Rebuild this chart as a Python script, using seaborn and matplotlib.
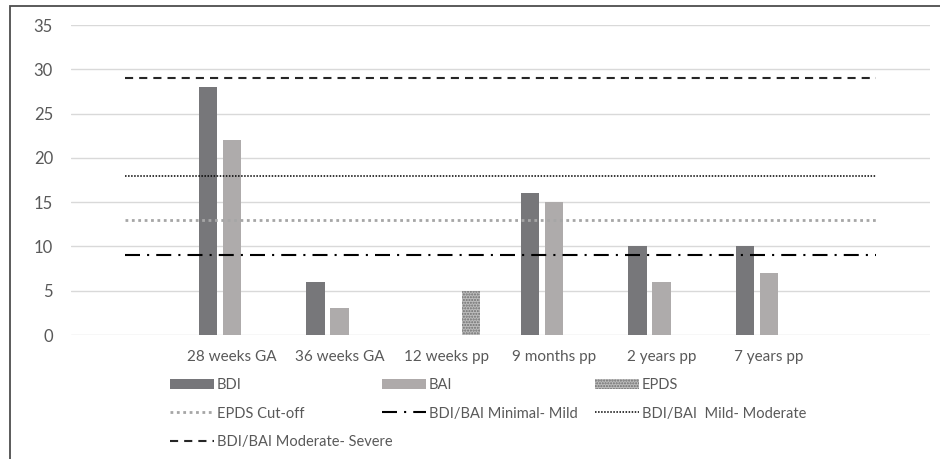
import numpy as np
import pandas as pd
import matplotlib
matplotlib.use("Agg")
import matplotlib.pyplot as plt
import seaborn as sns
from matplotlib.patches import Rectangle, Patch
from matplotlib.lines import Line2D

# ---- data ----
categories = ["", "28 weeks GA", "36 weeks GA", "12 weeks pp", "9 months pp",
              "2 years pp", "7 years pp", " "]
bdi = [np.nan, 28, 6, np.nan, 16, 10, 10, np.nan]
bai = [np.nan, 22, 3, np.nan, 15, 6, 7, np.nan]
epds = [np.nan, np.nan, np.nan, 5, np.nan, np.nan, np.nan, np.nan]
series_names = ["BDI", "BAI", "EPDS"]

threshold_names = ["EPDS Cut-off", "BDI/BAI Minimal- Mild",
                   "BDI/BAI  Mild- Moderate", "BDI/BAI Moderate- Severe"]
threshold_values = [13, 9, 18, 29]
yticks = [0, 5, 10, 15, 20, 25, 30, 35]

# ---- style ----
sns.set_theme(style="white")
plt.rcParams["font.family"] = ["Lato", "DejaVu Sans"]
plt.rcParams["hatch.linewidth"] = 1.0

TXT = "#595959"
bar_colors = {"BDI": "#76767a", "BAI": "#aeaaaa", "EPDS": "#bdbdbd"}
HATCH_C = "#6e6e6e"

fig = plt.figure(figsize=(9.4, 4.59), dpi=100)
ax = fig.add_axes([71 / 940, 1 - 335 / 459, (930 - 71) / 940, (335 - 25) / 459])

df = pd.DataFrame({
    "category": categories * 3,
    "series": sum([[s] * len(categories) for s in series_names], []),
    "value": bdi + bai + epds,
})

sns.barplot(data=df, x="category", y="value", hue="series", order=categories,
            hue_order=series_names, palette=bar_colors, width=0.672, gap=0.23,
            linewidth=0, errorbar=None, legend=False, ax=ax)

# hatch the EPDS bars
for p in ax.containers[2]:
    p.set_hatch("......")
    p.set_edgecolor(HATCH_C)
    p.set_linewidth(0)

# reference lines
line_styles = {
    "EPDS Cut-off": dict(color="#a6a6a6", lw=2.0, dashes=(1.0, 1.3)),
    "BDI/BAI Minimal- Mild": dict(color="#000000", lw=1.5, dashes=(7.2, 3.4, 1.0, 3.4)),
    "BDI/BAI  Mild- Moderate": dict(color="#000000", lw=1.1, dashes=(1.0, 1.0)),
    "BDI/BAI Moderate- Severe": dict(color="#262626", lw=1.5, dashes=(3.9, 2.9)),
}
xpos = np.arange(len(categories))
for name, val in zip(threshold_names, threshold_values):
    st = line_styles[name]
    ldf = pd.DataFrame({"x": xpos, "y": [val] * len(xpos)})
    sns.lineplot(data=ldf, x="x", y="y", ax=ax, color=st["color"], lw=st["lw"])
    ln = ax.lines[-1]
    ln.set_dashes(st["dashes"])
    ln.set_dash_capstyle("butt")

ax.set_xlim(-0.5, len(categories) - 0.5)
ax.set_ylim(0, 35)
ax.set_yticks(yticks)
ax.set_xticks(xpos)
ax.set_xticklabels(categories)
ax.set_xlabel("")
ax.set_ylabel("")
ax.yaxis.grid(True, color="#d9d9d9", lw=1)
ax.set_axisbelow(True)
for s in ax.spines.values():
    s.set_visible(False)
ax.tick_params(axis="y", length=0, pad=13, labelsize=12, labelcolor=TXT)
ax.tick_params(axis="x", length=0, pad=11, labelsize=11, labelcolor=TXT)

# legends (three columns)
fs = 10.5
h_bdi = Patch(facecolor=bar_colors["BDI"], edgecolor="none")
h_bai = Patch(facecolor=bar_colors["BAI"], edgecolor="none")
h_epds = Patch(facecolor=bar_colors["EPDS"], edgecolor=HATCH_C, hatch="......", lw=0)

def lh(name):
    st = line_styles[name]
    l = Line2D([], [], color=st["color"], lw=st["lw"])
    l.set_dashes(st["dashes"])
    return l

cols = [
    ([h_bdi, lh(threshold_names[0]), lh(threshold_names[3])],
     ["BDI", threshold_names[0], threshold_names[3]], 170),
    ([h_bai, lh(threshold_names[1])], ["BAI", threshold_names[1]], 382),
    ([h_epds, lh(threshold_names[2])], ["EPDS", threshold_names[2]], 595),
]
for handles, labels, xpx in cols:
    fig.legend(handles, labels, loc="upper left",
               bbox_to_anchor=(xpx / 940, 1 - 378 / 459),
               frameon=False, fontsize=fs, handlelength=3.0,
               handleheight=0.7, handletextpad=0.2, labelspacing=1.0,
               borderpad=0, borderaxespad=0, labelcolor=TXT)

# chart border
fig.patches.append(Rectangle((10 / 940, -0.1), 1.2, 1.1 - 6 / 459,
                             transform=fig.transFigure, fill=False,
                             edgecolor="#4d4d4d", lw=1.3))

fig.savefig("out.png", dpi=100)
